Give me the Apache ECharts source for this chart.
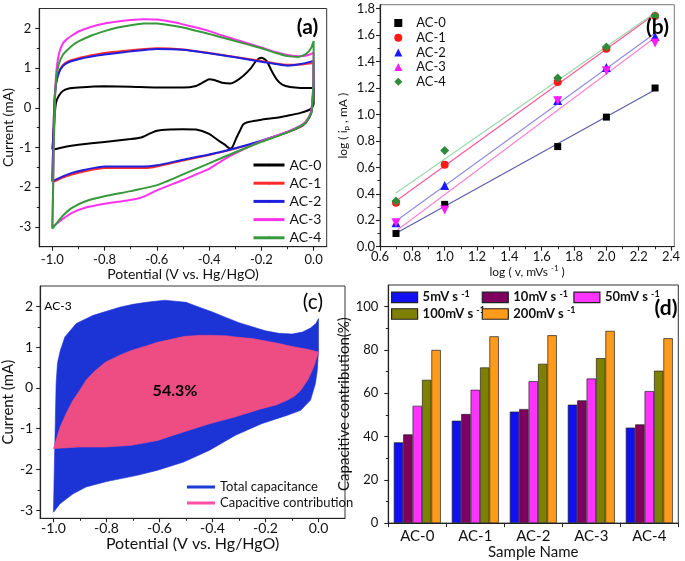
<!DOCTYPE html>
<html><head><meta charset="utf-8">
<script src="https://cdn.jsdelivr.net/npm/echarts@6/dist/echarts.min.js"></script>
<style>html,body{margin:0;padding:0;background:#fff}#c{width:685px;height:561px}</style>
</head><body><div id="c"></div>
<script>
const FONT = 'Lato, "Open Sans", sans-serif';

// ---------- (a) CV curves: [potential V, current mA] ----------
const cvNames = ['AC-0', 'AC-1', 'AC-2', 'AC-3', 'AC-4'];
const cvColors = ['#000000', '#ff2a2a', '#1f1fe0', '#ff33ee', '#369a3a'];
const cvAC0 = [[-1.0,-1.05],[-0.995,-0.6],[-0.99,-0.1],[-0.985,0.15],[-0.975,0.3],[-0.96,0.42],[-0.94,0.48],[-0.9,0.51],[-0.8,0.54],[-0.7,0.53],[-0.6,0.51],[-0.5,0.51],[-0.45,0.55],[-0.42,0.65],[-0.4,0.72],[-0.38,0.7],[-0.35,0.63],[-0.32,0.61],[-0.3,0.66],[-0.27,0.8],[-0.24,1.0],[-0.22,1.18],[-0.2,1.26],[-0.18,1.18],[-0.16,0.92],[-0.14,0.7],[-0.12,0.58],[-0.09,0.52],[-0.05,0.5],[0.0,0.5],
  [0.0,0.1],[-0.01,-0.03],[-0.05,-0.13],[-0.1,-0.2],[-0.15,-0.26],[-0.2,-0.3],[-0.25,-0.36],[-0.27,-0.42],[-0.28,-0.55],[-0.295,-0.75],[-0.31,-0.98],[-0.32,-1.03],[-0.34,-0.93],[-0.37,-0.8],[-0.4,-0.66],[-0.45,-0.55],[-0.5,-0.54],[-0.55,-0.55],[-0.6,-0.58],[-0.63,-0.66],[-0.66,-0.75],[-0.7,-0.79],[-0.8,-0.86],[-0.9,-0.93],[-0.95,-0.98],[-1.0,-1.06]];
const cvAC1 = [[-1.0,-1.87],[-0.997,-1.0],[-0.994,-0.2],[-0.99,0.35],[-0.985,0.65],[-0.975,0.9],[-0.96,1.07],[-0.94,1.17],[-0.9,1.25],[-0.85,1.32],[-0.8,1.38],[-0.7,1.45],[-0.6,1.5],[-0.5,1.47],[-0.4,1.38],[-0.3,1.28],[-0.2,1.18],[-0.15,1.12],[-0.1,1.08],[-0.05,1.09],[0.0,1.13],
  [0.0,0.6],[-0.005,0.1],[-0.01,-0.15],[-0.03,-0.38],[-0.05,-0.48],[-0.1,-0.62],[-0.2,-0.84],[-0.3,-1.03],[-0.4,-1.19],[-0.5,-1.33],[-0.6,-1.48],[-0.65,-1.52],[-0.7,-1.52],[-0.8,-1.52],[-0.875,-1.6],[-0.925,-1.68],[-0.96,-1.76],[-0.98,-1.82],[-1.0,-1.88]];
const cvAC2 = [[-1.0,-1.84],[-0.997,-1.0],[-0.994,-0.2],[-0.99,0.35],[-0.985,0.63],[-0.975,0.88],[-0.96,1.05],[-0.94,1.14],[-0.9,1.22],[-0.85,1.29],[-0.8,1.34],[-0.7,1.42],[-0.6,1.48],[-0.5,1.46],[-0.4,1.37],[-0.3,1.27],[-0.2,1.16],[-0.15,1.11],[-0.1,1.06],[-0.05,1.1],[0.0,1.18],
  [0.0,0.6],[-0.005,0.1],[-0.01,-0.15],[-0.03,-0.37],[-0.05,-0.47],[-0.1,-0.61],[-0.2,-0.83],[-0.3,-1.02],[-0.4,-1.18],[-0.5,-1.31],[-0.6,-1.45],[-0.65,-1.48],[-0.7,-1.48],[-0.8,-1.48],[-0.875,-1.56],[-0.925,-1.64],[-0.96,-1.73],[-0.98,-1.79],[-1.0,-1.84]];
const cvAC3 = [[-1.0,-3.0],[-0.997,-2.0],[-0.994,-0.8],[-0.99,0.2],[-0.985,0.9],[-0.975,1.35],[-0.96,1.62],[-0.94,1.75],[-0.925,1.82],[-0.9,1.92],[-0.85,2.04],[-0.8,2.12],[-0.75,2.17],[-0.7,2.21],[-0.65,2.23],[-0.6,2.22],[-0.55,2.17],[-0.5,2.1],[-0.45,2.02],[-0.4,1.93],[-0.35,1.82],[-0.3,1.72],[-0.25,1.62],[-0.2,1.52],[-0.15,1.41],[-0.1,1.33],[-0.05,1.3],[-0.02,1.33],[0.0,1.39],
  [0.0,0.8],[-0.005,0.2],[-0.01,-0.1],[-0.03,-0.35],[-0.05,-0.45],[-0.1,-0.6],[-0.2,-0.84],[-0.3,-1.15],[-0.35,-1.33],[-0.4,-1.54],[-0.45,-1.68],[-0.5,-1.82],[-0.6,-2.08],[-0.65,-2.24],[-0.68,-2.3],[-0.75,-2.37],[-0.8,-2.42],[-0.875,-2.52],[-0.925,-2.65],[-0.96,-2.8],[-0.98,-2.9],[-1.0,-3.0]];
const cvAC4 = [[-1.0,-3.05],[-0.997,-2.0],[-0.994,-0.8],[-0.99,0.2],[-0.985,0.75],[-0.975,1.1],[-0.96,1.33],[-0.94,1.47],[-0.925,1.56],[-0.9,1.67],[-0.85,1.82],[-0.8,1.93],[-0.75,2.02],[-0.7,2.08],[-0.65,2.12],[-0.6,2.12],[-0.55,2.08],[-0.5,2.02],[-0.45,1.94],[-0.4,1.86],[-0.35,1.77],[-0.3,1.68],[-0.25,1.59],[-0.2,1.5],[-0.15,1.39],[-0.1,1.3],[-0.06,1.28],[-0.03,1.35],[-0.01,1.5],[0.0,1.68],
  [0.0,1.0],[-0.003,0.3],[-0.008,-0.1],[-0.03,-0.36],[-0.05,-0.46],[-0.1,-0.62],[-0.2,-0.86],[-0.3,-1.12],[-0.4,-1.4],[-0.5,-1.68],[-0.6,-1.95],[-0.7,-2.1],[-0.8,-2.23],[-0.875,-2.36],[-0.925,-2.52],[-0.96,-2.72],[-0.98,-2.88],[-1.0,-3.05]];
const cvData = [cvAC0, cvAC1, cvAC2, cvAC3, cvAC4];
const cvTicksX = [-1.0, -0.8, -0.6, -0.4, -0.2, 0.0];
const cvMinorX = [-0.9, -0.7, -0.5, -0.3, -0.1];
const cvTicksY = [-3, -2, -1, 0, 1, 2];
const cvMinorY = [-2.5, -1.5, -0.5, 0.5, 1.5];

// ---------- (b) log(ip) vs log(v) ----------
const logV = [0.699, 1.0, 1.699, 2.0, 2.301];
const logIpAC0 = [0.10, 0.32, 0.757, 0.98, 1.20];
const logIpAC1 = [0.333, 0.619, 1.245, 1.497, 1.745];
const logIpAC2 = [0.182, 0.462, 1.106, 1.356, 1.59];
const logIpAC3 = [0.182, 0.278, 1.103, 1.33, 1.54];
const logIpAC4 = [0.346, 0.727, 1.275, 1.51, 1.747];
const logIp = [logIpAC0, logIpAC1, logIpAC2, logIpAC3, logIpAC4];
const bSymbols = ['rect', 'circle', 'triangle', 'triangle', 'diamond'];
const bRotate = [0, 0, 0, 180, 0];
const bSizes = [7, 8, 9, 9, 9];
const bColors = ['#000000', '#ff1a1a', '#1a1aff', '#ff1aff', '#2e8b3a'];
const bFitColors = ['#5a5aa8', '#ff5596', '#8c8cdc', '#ff80d0', '#99d6a8'];
const bTicksX = [0.6, 0.8, 1.0, 1.2, 1.4, 1.6, 1.8, 2.0, 2.2, 2.4];
const bMinorX = [0.7, 0.9, 1.1, 1.3, 1.5, 1.7, 1.9, 2.1, 2.3];
const bTicksY = [0, 0.2, 0.4, 0.6, 0.8, 1.0, 1.2, 1.4, 1.6, 1.8];
const bMinorY = [0.1, 0.3, 0.5, 0.7, 0.9, 1.1, 1.3, 1.5, 1.7];

// ---------- (c) AC-3 capacitive separation ----------
const totalUpper = [[-1.0,-3.05],[-0.997,-2.0],[-0.993,-0.8],[-0.99,0.1],[-0.985,0.6],[-0.975,0.9],[-0.957,1.25],[-0.914,1.58],[-0.85,1.78],[-0.8,1.88],[-0.75,1.98],[-0.7,2.05],[-0.65,2.1],[-0.58,2.15],[-0.5,2.1],[-0.45,1.98],[-0.4,1.86],[-0.35,1.73],[-0.3,1.6],[-0.25,1.5],[-0.2,1.4],[-0.15,1.34],[-0.1,1.32],[-0.06,1.37],[-0.03,1.47],[-0.01,1.58],[0.0,1.7]];
const totalLower = [[0.0,0.9],[-0.005,0.4],[-0.012,0.1],[-0.03,-0.3],[-0.067,-0.55],[-0.117,-0.67],[-0.215,-0.88],[-0.313,-1.16],[-0.411,-1.53],[-0.509,-1.82],[-0.607,-2.02],[-0.68,-2.14],[-0.8,-2.3],[-0.877,-2.43],[-0.926,-2.6],[-0.975,-2.84],[-1.0,-3.05]];
const capUpper = [[-1.0,-1.49],[-0.975,-0.96],[-0.95,-0.6],[-0.926,-0.3],[-0.9,-0.05],[-0.877,0.19],[-0.85,0.38],[-0.804,0.63],[-0.75,0.8],[-0.706,0.92],[-0.65,1.03],[-0.607,1.12],[-0.55,1.2],[-0.509,1.26],[-0.45,1.29],[-0.411,1.29],[-0.35,1.28],[-0.313,1.25],[-0.25,1.21],[-0.215,1.17],[-0.15,1.09],[-0.117,1.04],[-0.07,0.98],[-0.043,0.95],[0.0,0.88]];
const capLower = [[-0.018,0.51],[-0.04,0.2],[-0.067,-0.06],[-0.09,-0.2],[-0.117,-0.3],[-0.16,-0.42],[-0.215,-0.51],[-0.313,-0.71],[-0.411,-0.88],[-0.509,-1.08],[-0.607,-1.29],[-0.706,-1.41],[-0.804,-1.45],[-0.9,-1.45],[-1.0,-1.49]];
const cNames = ['Total capacitance', 'Capacitive contribution'];
const cTicksX = [-1.0, -0.8, -0.6, -0.4, -0.2, 0.0];
const cMinorX = [-0.9, -0.7, -0.5, -0.3, -0.1];
const cTicksY = [-3, -2, -1, 0, 1, 2];
const cMinorY = [-2.5, -1.5, -0.5, 0.5, 1.5];

// ---------- (d) capacitive contribution bars ----------
const sampleNames = ['AC-0', 'AC-1', 'AC-2', 'AC-3', 'AC-4'];
const rateNames = ['5mV s-1', '10mV s-1', '50mV s-1', '100mV s-1', '200mV s-1'];
const contrib5 = [37.3, 47.3, 51.5, 54.7, 44.1];
const contrib10 = [41.0, 50.4, 52.7, 56.7, 45.6];
const contrib50 = [54.2, 61.6, 65.6, 66.8, 61.0];
const contrib100 = [66.2, 71.9, 73.6, 76.2, 70.4];
const contrib200 = [80.0, 86.3, 86.8, 88.8, 85.4];
const contribData = [contrib5, contrib10, contrib50, contrib100, contrib200];
const dColors = ['#1010f0', '#800060', '#ff33ff', '#808000', '#ff9a1a'];
const dTicksY = [0, 20, 40, 60, 80, 100];
const dMinorY = [10, 30, 50, 70, 90];

// ---------- helpers ----------
const AX = '#222';
function mainAxis(gridIndex, min, max, ticks, fmt, fs, margin, extra) {
  return Object.assign({
    type: 'value', gridIndex, min, max,
    axisLine: { show: true, onZero: false, lineStyle: { color: AX, width: 1.2 } },
    axisTick: { show: true, inside: false, length: 4, customValues: ticks, lineStyle: { color: AX, width: 1.1 } },
    axisLabel: { customValues: ticks, formatter: fmt, fontSize: fs, fontFamily: FONT, color: '#111', margin },
    splitLine: { show: false }
  }, extra || {});
}
function minorAxis(gridIndex, min, max, ticks, pos) {
  return {
    type: 'value', gridIndex, min, max, position: pos,
    axisLine: { show: false, onZero: false },
    axisTick: { show: true, inside: false, length: 2.5, customValues: ticks, lineStyle: { color: AX, width: 1 } },
    axisLabel: { show: false }, splitLine: { show: false }
  };
}
function legendItem(name, left, cy, o) {
  const lh = 16;
  return Object.assign({
    data: [name], left, top: cy - lh / 2, orient: 'vertical', padding: 0,
    selectedMode: false,
    textStyle: { fontFamily: FONT, fontSize: 13, color: '#111', lineHeight: lh }
  }, o || {});
}
function linReg(xs, ys) {
  const n = xs.length;
  const mx = xs.reduce((a, b) => a + b, 0) / n, my = ys.reduce((a, b) => a + b, 0) / n;
  let sxy = 0, sxx = 0;
  for (let i = 0; i < n; i++) { sxy += (xs[i] - mx) * (ys[i] - my); sxx += (xs[i] - mx) ** 2; }
  const b = sxy / sxx, a = my - b * mx;
  return [[xs[0], a + b * xs[0]], [xs[n - 1], a + b * xs[n - 1]]];
}
function polygonSeries(name, pts, color, xi, yi) {
  return {
    type: 'custom', name, xAxisIndex: xi, yAxisIndex: yi, data: pts,
    encode: { x: 0, y: 1 }, itemStyle: { color }, silent: true,
    renderItem: function (params, api) {
      if (params.dataIndex !== 0) return null;
      return { type: 'polygon', shape: { points: pts.map(p => api.coord(p)) },
        style: { fill: color, stroke: color, lineWidth: 0.6 } };
    }
  };
}
const f1 = v => v.toFixed(1);
const fInt = v => String(Math.round(v));

const grids = [
  { left: 33.3, top: 8.5, width: 293.4, height: 238.2 },
  { left: 380, top: 4.7, width: 294.3, height: 242 },
  { left: 33.3, top: 286, width: 311.7, height: 232.3 },
  { left: 388.3, top: 285, width: 290, height: 238.3 }
].map(g => Object.assign({ show: true, borderColor: '#333', borderWidth: 1, backgroundColor: 'transparent', containLabel: false }, g));
grids[1].borderColor = '#777';

const xAxes = [
  mainAxis(0, -1.05, 0.05, cvTicksX, f1, 13, 7, { name: 'Potential (V vs. Hg/HgO)', nameLocation: 'middle', nameGap: 14, nameTextStyle: { fontSize: 14, fontFamily: FONT, color: '#111' } }),
  minorAxis(0, -1.05, 0.05, cvMinorX, 'bottom'),
  mainAxis(1, 0.6, 2.42, bTicksX, f1, 13, 4, { name: 'log ( v, mVs {sup|-1} )', nameLocation: 'middle', nameGap: 18, nameTextStyle: { fontSize: 12, fontFamily: FONT, color: '#111', rich: { sup: { fontSize: 8, fontFamily: FONT, verticalAlign: 'top', lineHeight: 14 } } } }),
  minorAxis(1, 0.6, 2.42, bMinorX, 'bottom'),
  mainAxis(2, -1.05, 0.1, cTicksX, f1, 14, 3, { name: 'Potential (V vs. Hg/HgO)', nameLocation: 'middle', nameGap: 18, nameTextStyle: { fontSize: 16, fontFamily: FONT, color: '#111' } }),
  minorAxis(2, -1.05, 0.1, cMinorX, 'bottom'),
  {
    type: 'category', gridIndex: 3, data: sampleNames,
    axisLine: { show: true, lineStyle: { color: AX, width: 1.2 } },
    axisTick: { show: true, length: 4, lineStyle: { color: AX } },
    axisLabel: { fontSize: 15, fontFamily: FONT, color: '#111', margin: 6 },
    name: 'Sample Name', nameLocation: 'middle', nameGap: 21,
    nameTextStyle: { fontSize: 15, fontFamily: FONT, color: '#111' }
  }
];
const yAxes = [
  mainAxis(0, -3.5, 2.5, cvTicksY, fInt, 13, 8, { name: 'Current (mA)', nameLocation: 'middle', nameGap: 17, nameTextStyle: { fontSize: 14, fontFamily: FONT, color: '#111' } }),
  minorAxis(0, -3.5, 2.5, cvMinorY, 'left'),
  mainAxis(1, 0, 1.83, bTicksY, f1, 13, 5, { name: 'log ( i{sub|p} , mA )', nameLocation: 'middle', nameGap: 30, nameTextStyle: { fontSize: 12, fontFamily: FONT, color: '#111', rich: { sub: { fontSize: 8, fontFamily: FONT, verticalAlign: 'bottom', lineHeight: 14 } } } }),
  minorAxis(1, 0, 1.83, bMinorY, 'left'),
  mainAxis(2, -3.2, 2.5, cTicksY, fInt, 14, 7, { name: 'Current (mA)', nameLocation: 'middle', nameGap: 18, nameTextStyle: { fontSize: 15, fontFamily: FONT, color: '#111' } }),
  minorAxis(2, -3.2, 2.5, cMinorY, 'left'),
  mainAxis(3, 0, 110, dTicksY, fInt, 13, 10, { name: 'Capacitive contribution(%)', nameLocation: 'middle', nameGap: 27, nameTextStyle: { fontSize: 15, fontFamily: FONT, color: '#111' } }),
  minorAxis(3, 0, 110, dMinorY, 'left')
];

const series = [];
// (a)
cvNames.forEach((n, i) => series.push({
  type: 'line', name: n, xAxisIndex: 0, yAxisIndex: 0, data: cvData[i],
  symbol: 'none', smooth: 0.2, lineStyle: { color: cvColors[i], width: 2 }, itemStyle: { color: cvColors[i] }
}));
// (b)
cvNames.forEach((n, i) => {
  series.push({
    type: 'line', name: n + ' fit', xAxisIndex: 2, yAxisIndex: 2, data: linReg(logV, logIp[i]),
    symbol: 'none', lineStyle: { color: bFitColors[i], width: 1.1 }, z: 2
  });
});
cvNames.forEach((n, i) => {
  series.push({
    type: 'scatter', name: n + ' ', xAxisIndex: 2, yAxisIndex: 2,
    data: logV.map((x, k) => [x, logIp[i][k]]),
    symbol: bSymbols[i], symbolRotate: bRotate[i], symbolSize: bSizes[i],
    itemStyle: { color: bColors[i], opacity: 1 }, z: 3
  });
});
// (c)
series.push(polygonSeries(cNames[0], totalUpper.concat(totalLower), '#1c33d6', 4, 4));
series.push(polygonSeries(cNames[1], capUpper.concat(capLower), '#ee4d84', 4, 4));
// (d)
rateNames.forEach((n, i) => series.push({
  type: 'bar', name: n, xAxisIndex: 6, yAxisIndex: 6, data: contribData[i],
  barWidth: 9.4, barGap: '0%', itemStyle: { color: dColors[i], borderColor: '#222', borderWidth: 0.7 }
}));

const legends = [];
// (a) legend
const aLegY = [165, 183.2, 201.4, 219.6, 237.8];
cvNames.forEach((n, i) => legends.push(legendItem(n, 252, aLegY[i], {
  itemWidth: 31, itemHeight: 3, lineStyle: { width: 3 },
  textStyle: { fontFamily: FONT, fontSize: 14, color: '#111', lineHeight: 16 }
})));
// (b) legend
const bLegY = [23, 37.7, 52.4, 67.1, 81.8];
cvNames.forEach((n, i) => legends.push(legendItem(n + ' ', 394.3, bLegY[i], {
  itemWidth: 8, itemHeight: 8,
  formatter: s => '{t|' + s.trim() + '}',
  textStyle: { fontFamily: FONT, fontSize: 13, color: '#111', lineHeight: 16, rich: { t: { fontFamily: FONT, fontSize: 13, lineHeight: 16, padding: [0, 0, 0, 9] } } }
})));
// (c) legend
const cLegY = [487, 503];
cNames.forEach((n, i) => legends.push(legendItem(n, 187, cLegY[i], {
  icon: 'rect', itemWidth: 28, itemHeight: 3,
  data: [{ name: n, itemStyle: { color: i === 0 ? '#1c3bd0' : '#ff4fa8' } }],
  textStyle: { fontFamily: FONT, fontSize: 13, color: '#111', lineHeight: 16 }
})));
// (d) legend
const dLegPos = [[391, 297.3], [481.7, 297.3], [573.3, 297.3], [391, 314], [481.7, 314]];
rateNames.forEach((n, i) => legends.push(legendItem(n, dLegPos[i][0], dLegPos[i][1], {
  icon: 'rect', itemWidth: 26, itemHeight: 10.5,
  itemStyle: { borderColor: '#222', borderWidth: 1.2 },
  formatter: s => s.replace(' s-1', ' s {sup|-1}'),
  textStyle: { fontFamily: FONT, fontSize: 13, fontWeight: 'bold', color: '#111', lineHeight: 16,
    rich: { sup: { fontFamily: FONT, fontSize: 9, fontWeight: 'bold', lineHeight: 16, verticalAlign: 'top', padding: [0, 0, 6, 0] } } }
})));

function label(text, x, y, size, weight) {
  return { type: 'text', x, y, z: 100,
    style: { text, fill: '#000', fontSize: size, fontWeight: weight, fontFamily: FONT,
      align: 'center', verticalAlign: 'middle', textAlign: 'center', textVerticalAlign: 'middle' } };
}

const chart = echarts.init(document.getElementById('c'), null, { renderer: 'canvas' });
chart.setOption({
  animation: false,
  backgroundColor: '#fff',
  grid: grids,
  xAxis: xAxes,
  yAxis: yAxes,
  legend: legends,
  series,
  graphic: [
    label('(a)', 307.5, 27, 21, 'bold'),
    label('(b)', 657.5, 27, 21, 'bold'),
    label('(c)', 313, 302, 21, 'normal'),
    label('(d)', 666, 308, 21, 'bold'),
    label('AC-3', 58, 306, 12, 'normal'),
    label('54.3%', 175, 391, 16, 'bold')
  ]
});
</script>
</body></html>
